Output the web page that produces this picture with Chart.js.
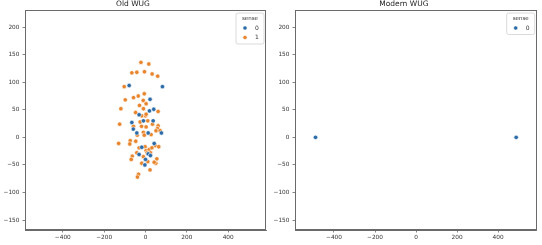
<!DOCTYPE html>
<html>
<head>
<meta charset="utf-8">
<script src="https://cdn.jsdelivr.net/npm/chart.js@4"></script>
<style>
html,body{margin:0;padding:0;background:#fff;}
#wrap{position:relative;width:542px;height:245px;}
.box{position:absolute;top:0;width:271px;height:245px;}
</style>
</head>
<body>
<div id="wrap">
  <div class="box" style="left:0"><canvas id="c1" width="271" height="245"></canvas></div>
  <div class="box" style="left:271px"><canvas id="c2" width="271" height="245"></canvas></div>
</div>
<script>
// ---- data ----
const oldSense1X = [-22,16,-66,-42,-5,32,59,-103,-98,-58,-35,-6,-119,-29,-11,3,-10,-48,-18,0,3,61,-125,-58,-26,11,-19,3,34,61,58,51,71,-40,-10,-6,27,-130,-74,-76,-47,-31,-2,47,64,-42,3,18,8,24,31,-64,-69,-10,55,50,42,-18,11,22,-34,-39];
const oldSense1Y = [136,133,117,118,119,115,111,92,68,72,75,79,52,58,67,61,52,45,39,39,42,47,24,20,28,30,20,19,24,21,16,12,12,4,9,4,5,-11,-6,-12,-7,-19,-17,-15,-17,-28,-24,-22,-28,-28,-19,-34,-40,-35,-39,-47,-45,-47,-44,-59,-67,-72];
const oldSense0X = [-79,82,22,40,19,-66,-31,-10,37,-59,-42,13,77,-18,42,-31,13,24,-3,0];
const oldSense0Y = [94,92,69,51,48,27,41,30,30,15,8,8,8,-18,-11,-31,-30,-33,-50,-40];
const modernSense0X = [-490,488];
const modernSense0Y = [0,0];
const xTicks = [-400,-200,0,200,400];
const yTicks = [-150,-100,-50,0,50,100,150,200];
const senseLabels = ['0','1'];
const titles = ['Old WUG','Modern WUG'];

const BLUE = '#2a6ba8', ORANGE = '#e8852c';
const zip = (xs, ys) => xs.map((x, i) => ({x: x, y: ys[i]}));
const fmt = v => String(v).replace('-', '\u2212');

const framePlugin = {
  id: 'frame',
  afterDraw(chart) {
    const a = chart.chartArea, ctx = chart.ctx;
    ctx.save();
    ctx.strokeStyle = '#6a6a6a';
    ctx.lineWidth = 1;
    ctx.strokeRect(Math.round(a.left) + 0.5, Math.round(a.top) + 0.5,
      Math.round(a.right - a.left) - 1, Math.round(a.bottom - a.top) - 1);
    // legend box
    const ds = chart.data.datasets;
    const w = 28, right = a.right - 2, left = right - w, top = a.top + 3;
    const rowH = 9.5;
    const h = 12 + rowH * ds.length;
    ctx.fillStyle = 'rgba(255,255,255,0.85)';
    ctx.strokeStyle = '#d0d0d0';
    ctx.lineWidth = 0.8;
    ctx.beginPath();
    if (ctx.roundRect) ctx.roundRect(left, top, w, h, 2); else ctx.rect(left, top, w, h);
    ctx.fill(); ctx.stroke();
    ctx.fillStyle = '#333';
    ctx.font = '5.5px "DejaVu Sans"';
    ctx.textAlign = 'center';
    ctx.textBaseline = 'middle';
    ctx.fillText('sense', left + w / 2, top + 6);
    ds.forEach((d, i) => {
      const yy = top + 15 + i * rowH;
      ctx.beginPath();
      ctx.arc(left + 9, yy, 2.1, 0, Math.PI * 2);
      ctx.fillStyle = d.backgroundColor;
      ctx.fill();
      ctx.strokeStyle = '#fff';
      ctx.lineWidth = 0.5;
      ctx.stroke();
      ctx.fillStyle = '#333';
      ctx.font = '6px "DejaVu Sans"';
      ctx.fillText(d.label, left + 21, yy);
    });
    ctx.restore();
  }
};

function makeChart(id, title, datasets, xr, yWidth, padRight) {
  return new Chart(document.getElementById(id), {
    type: 'scatter',
    data: { datasets: datasets },
    plugins: [framePlugin],
    options: {
      responsive: false,
      animation: false,
      layout: { padding: { left: 0, right: padRight, top: 0, bottom: 0 } },
      plugins: {
        legend: { display: false },
        tooltip: { enabled: false },
        title: {
          display: true, text: title, color: '#222',
          font: { family: 'DejaVu Sans', size: 7.5, weight: 'normal', lineHeight: 1.2 },
          padding: { top: 0, bottom: 1 }
        }
      },
      scales: {
        x: {
          type: 'linear', min: xr[0], max: xr[1],
          afterBuildTicks: s => { s.ticks = xTicks.map(v => ({ value: v })); },
          afterFit: s => { s.height = 15; },
          grid: { drawOnChartArea: false, tickLength: 2.5, color: '#666', lineWidth: 0.8 },
          border: { display: true, color: '#6a6a6a' },
          ticks: { callback: v => fmt(v), color: '#333', padding: 1.5, maxRotation: 0,
                   font: { family: 'DejaVu Sans', size: 5.8 } }
        },
        y: {
          type: 'linear', min: -168, max: 231,
          afterBuildTicks: s => { s.ticks = yTicks.map(v => ({ value: v })); },
          afterFit: s => { s.width = yWidth; },
          grid: { drawOnChartArea: false, tickLength: 2.5, color: '#666', lineWidth: 0.8 },
          border: { display: true, color: '#6a6a6a' },
          ticks: { callback: v => fmt(v), color: '#333', padding: 3,
                   font: { family: 'DejaVu Sans', size: 5.8 } }
        }
      }
    }
  });
}

const ptStyle = c => ({ backgroundColor: c, borderColor: '#fff', borderWidth: 0.6, pointRadius: 2.2 });

makeChart('c1', titles[0], [
  Object.assign({ label: senseLabels[0], data: zip(oldSense0X, oldSense0Y), order: 1 }, ptStyle(BLUE)),
  Object.assign({ label: senseLabels[1], data: zip(oldSense1X, oldSense1Y), order: 2 }, ptStyle(ORANGE))
], [-583, 583], 25, 5);

makeChart('c2', titles[1], [
  Object.assign({ label: senseLabels[0], data: zip(modernSense0X, modernSense0Y) }, ptStyle(BLUE))
], [-590, 588], 24, 5.3);
</script>
</body>
</html>
